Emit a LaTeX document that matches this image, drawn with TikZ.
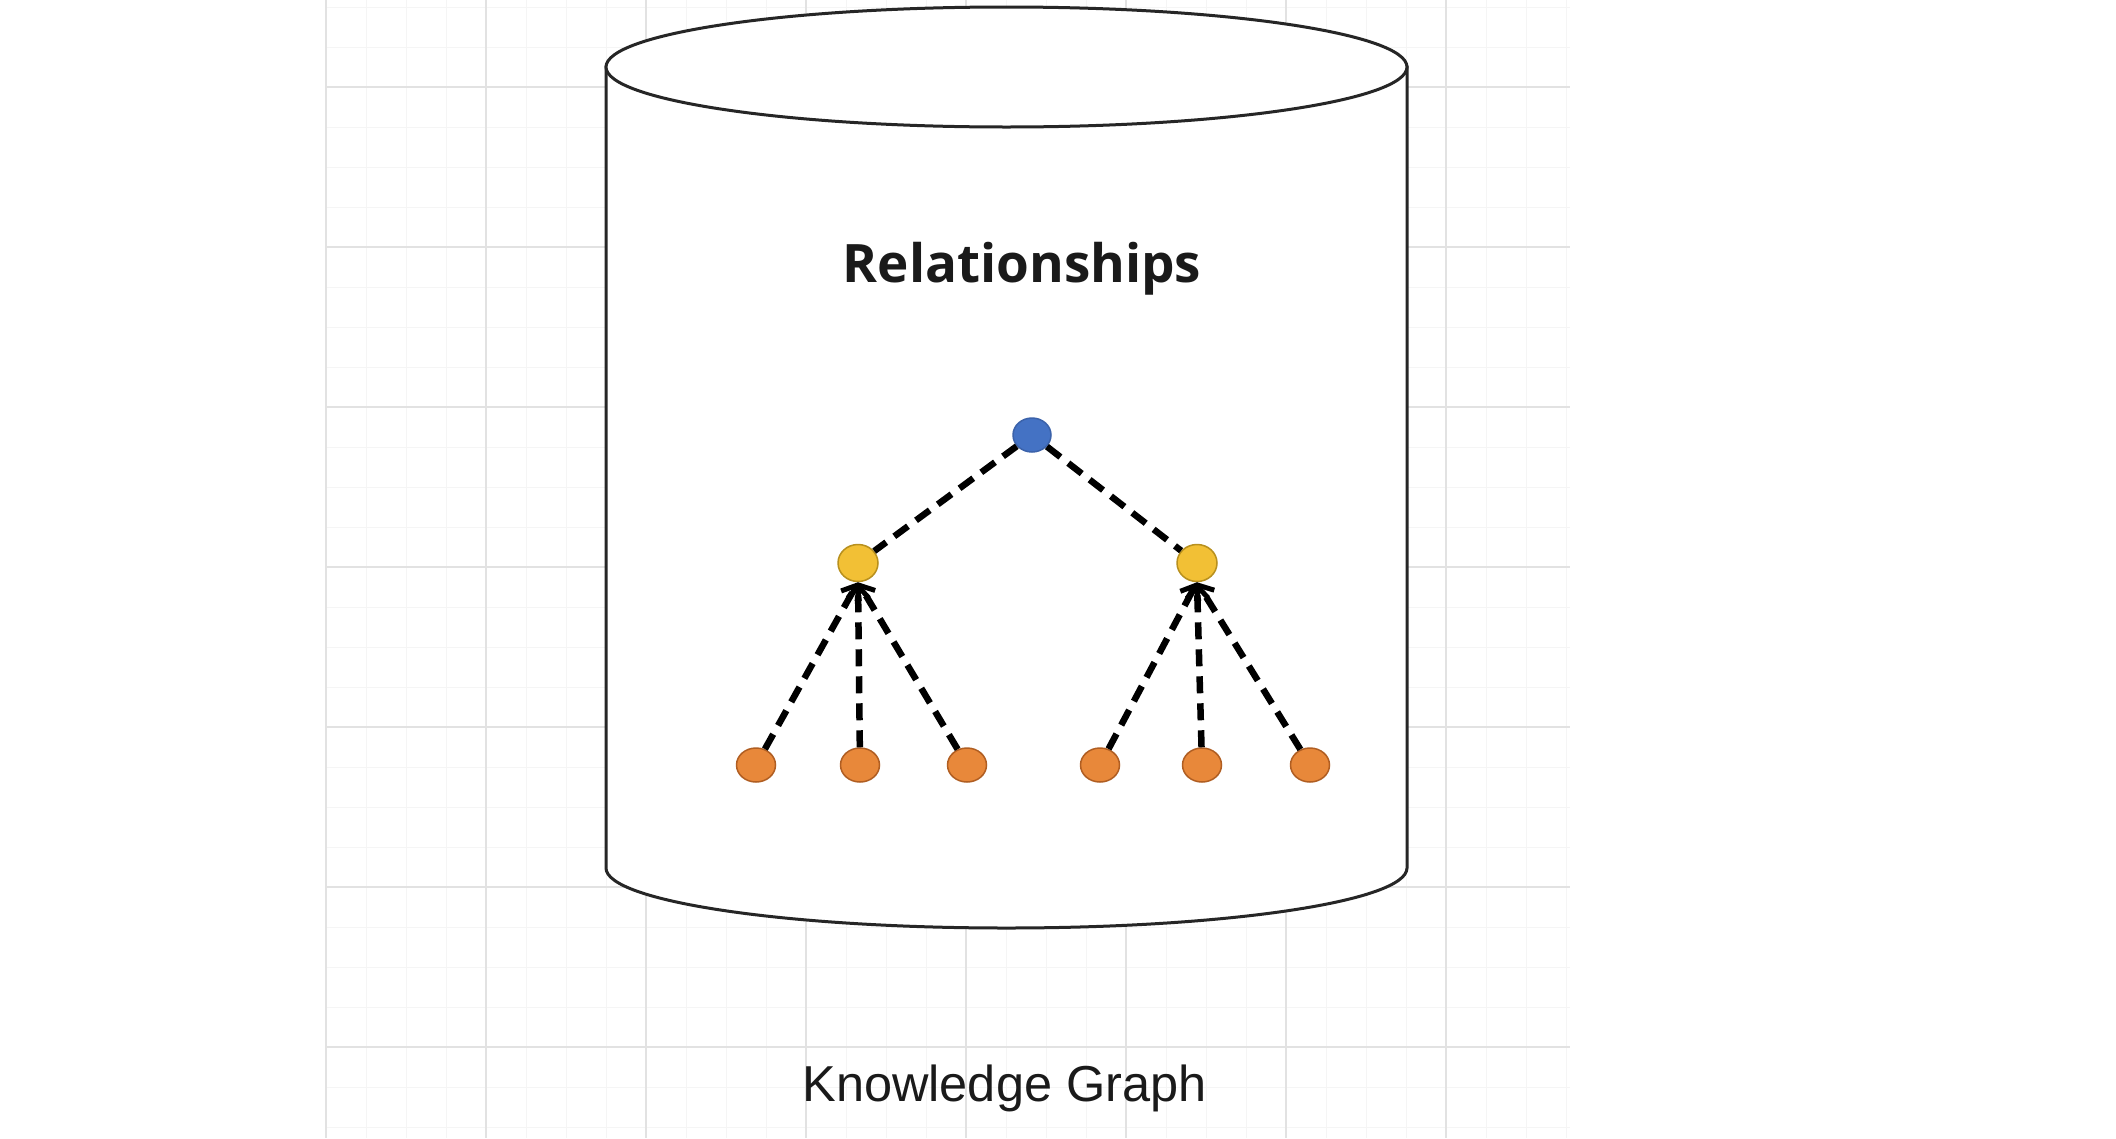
\documentclass[tikz,border=0pt]{standalone}
\usepackage{fontspec}
\setmainfont{Liberation Sans}
\newfontfamily\relfont{Open Sans}
\usetikzlibrary{arrows.meta,shapes.geometric}
\definecolor{gridmaj}{HTML}{E2E2E2}
\definecolor{gridmin}{HTML}{F5F5F5}
\definecolor{nodeblue}{HTML}{4472C4}
\definecolor{nodeblueline}{HTML}{3B62AA}
\definecolor{nodeyellow}{HTML}{F2C035}
\definecolor{nodeyellowline}{HTML}{B8901E}
\definecolor{nodeorange}{HTML}{E8883A}
\definecolor{nodeorangeline}{HTML}{B05E22}
\definecolor{textdark}{HTML}{1A1A1A}
\begin{document}
\begin{tikzpicture}[x=1pt,y=-1pt,
  gridminor/.style={draw=gridmin,line width=1pt},
  gridmajor/.style={draw=gridmaj,line width=1.6pt},
  cyl/.style={draw=black!85,line width=3pt,fill=white},
  rootnode/.style={ellipse,minimum width=38pt,minimum height=34pt,inner sep=0pt,fill=nodeblue,draw=nodeblueline,line width=1.5pt},
  midnode/.style={ellipse,minimum width=40pt,minimum height=37pt,inner sep=0pt,fill=nodeyellow,draw=nodeyellowline,line width=1.5pt},
  leafnode/.style={ellipse,minimum width=39pt,minimum height=34pt,inner sep=0pt,fill=nodeorange,draw=nodeorangeline,line width=1.5pt},
  dedge/.style={draw=black,line width=6.5pt,dash pattern=on 17pt off 10pt},
  arrowedge/.style={dedge,-{Straight Barb[length=12pt,width=21pt,line width=5pt]}},
  reltext/.style={font=\relfont\bfseries\fontsize{53}{60}\selectfont,text=textdark,inner sep=0pt},
  kgtext/.style={font=\fontsize{50.5}{58}\selectfont,text=textdark,inner sep=0pt}
]
\useasboundingbox (0,0) rectangle (2116,1138);
\fill[white] (0,0) rectangle (2116,1138);
% grid
\foreach \x in {326,366,...,1566} \draw[gridminor] (\x,0) -- (\x,1138);
\foreach \y in {7,47,...,1127} \draw[gridminor] (327,\y) -- (1570,\y);
\foreach \x in {326,486,...,1446} \draw[gridmajor] (\x,0) -- (\x,1138);
\foreach \y in {87,247,...,1047} \draw[gridmajor] (327,\y) -- (1570,\y);
% cylinder
\path[cyl] (606,67) -- (606,868) arc[start angle=180,end angle=0,x radius=400.5,y radius=60] -- (1407,67) -- cycle;
\path[cyl] (1006.5,67) ellipse [x radius=400.5,y radius=60];
% texts
\node[reltext,anchor=base] (rel) at (1022,282) {Relationships};
\node[kgtext,anchor=base] (kg) at (1004.5,1101) {Knowledge Graph};
% tree nodes
\node[rootnode] (r) at (1032,435) {};
\node[midnode] (ya) at (858,563) {};
\node[midnode] (yb) at (1197,563) {};
\node[leafnode] (la) at (756,765) {};
\node[leafnode] (lb) at (860,765) {};
\node[leafnode] (lc) at (967,765) {};
\node[leafnode] (ld) at (1100,765) {};
\node[leafnode] (le) at (1202,765) {};
\node[leafnode] (lf) at (1310,765) {};
% edges
\draw[dedge] (r) -- (ya);
\draw[dedge] (r) -- (yb);
\draw[arrowedge] (la) -- (ya.south);
\draw[arrowedge] (lb) -- (ya.south);
\draw[arrowedge] (lc) -- (ya.south);
\draw[arrowedge] (ld) -- (yb.south);
\draw[arrowedge] (le) -- (yb.south);
\draw[arrowedge] (lf) -- (yb.south);
\end{tikzpicture}
\end{document}
